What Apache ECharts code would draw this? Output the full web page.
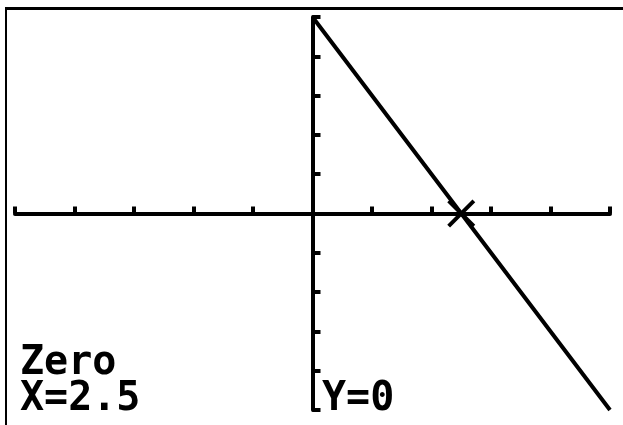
<!DOCTYPE html>
<html>
<head>
<meta charset="utf-8">
<script src="https://cdn.jsdelivr.net/npm/echarts@6/dist/echarts.min.js"></script>
<style>
  html, body { margin: 0; padding: 0; background: #fff; }
  #main { width: 623px; height: 425px; }
</style>
</head>
<body>
<div id="main"></div>
<script>
// window of the calculator screen
var xMin = -5, xMax = 5;
var yMin = -5, yMax = 5;

// graphed line y = -2x + 5 (visible part)
var lineX = [0, 2.5, 5];
var lineY = [5, 0, -5];

// zero found by the calculator
var zeroX = 2.5;
var zeroY = 0;

var myChart = echarts.init(document.getElementById('main'));

var lineData = [];
for (var i = 0; i < lineX.length; i++) {
    lineData.push([lineX[i], lineY[i]]);
}

var font = 'DejaVu Sans Mono';

myChart.setOption({
    animation: false,
    backgroundColor: '#fff',
    grid: { left: 15, right: 13, top: 17, bottom: 15 },
    xAxis: {
        type: 'value',
        min: xMin, max: xMax, interval: 1,
        axisLine: { onZero: true, lineStyle: { color: '#000', width: 4 } },
        axisTick: { inside: true, length: 7, lineStyle: { color: '#000', width: 4 } },
        axisLabel: { show: false },
        splitLine: { show: false }
    },
    yAxis: {
        type: 'value',
        min: yMin, max: yMax, interval: 1,
        axisLine: { onZero: true, lineStyle: { color: '#000', width: 4 } },
        axisTick: { inside: true, length: 8, lineStyle: { color: '#000', width: 4 } },
        axisLabel: { show: false },
        splitLine: { show: false }
    },
    series: [{
        type: 'line',
        data: lineData,
        symbol: 'none',
        lineStyle: { color: '#000', width: 4 },
        z: 3
    }, {
        type: 'scatter',
        data: [[zeroX, zeroY]],
        symbol: 'path://M0,1L1,0L10,9L9,10ZM9,0L10,1L1,10L0,9Z',
        symbolSize: 28,
        itemStyle: { color: '#000', opacity: 1 },
        z: 4
    }],
    graphic: [
        { type: 'rect', shape: { x: 5, y: 7, width: 618, height: 3 }, style: { fill: '#000' } },
        { type: 'rect', shape: { x: 5, y: 7, width: 2, height: 418 }, style: { fill: '#000' } },
        { type: 'text', left: 20, top: 344, style: { text: 'Zero', font: 'bold 40px ' + font, fill: '#000' } },
        { type: 'text', left: 20, top: 380, style: { text: 'X=' + zeroX, font: 'bold 40px ' + font, fill: '#000' } },
        { type: 'text', left: 322, top: 380, style: { text: 'Y=' + zeroY, font: 'bold 40px ' + font, fill: '#000' } }
    ]
});
</script>
</body>
</html>
